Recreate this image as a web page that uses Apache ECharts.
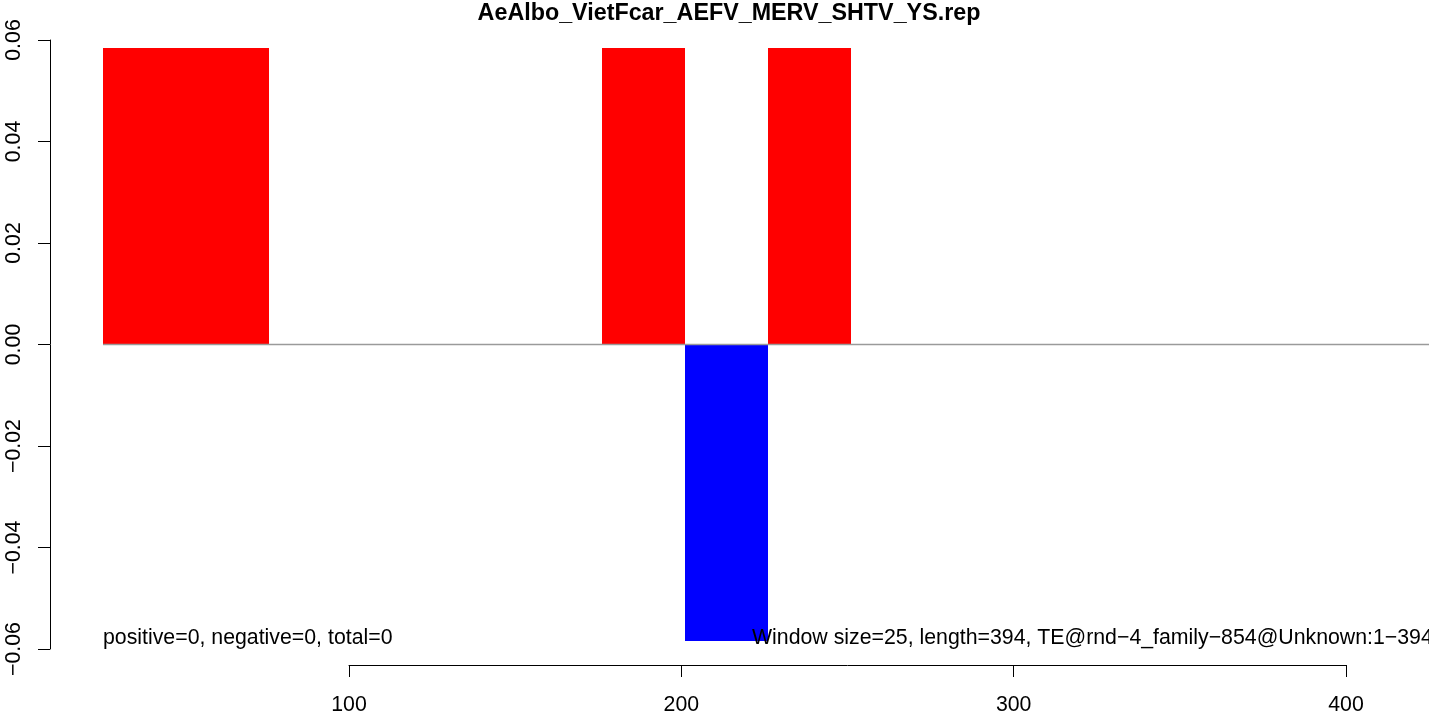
<!DOCTYPE html>
<html>
<head>
<meta charset="utf-8">
<script src="https://cdn.jsdelivr.net/npm/echarts@6/dist/echarts.min.js"></script>
<style>
html,body{margin:0;padding:0;background:#fff;}
#chart{width:1429px;height:716px;}
</style>
</head>
<body>
<div id="chart"></div>
<script>
// ---- data ----
var titleText = 'AeAlbo_VietFcar_AEFV_MERV_SHTV_YS.rep';
var windowStarts = [26, 51, 176, 201, 226];
var windowEnds   = [51, 76, 201, 226, 251];
var windowValues = [0.0585, 0.0585, 0.0585, -0.0585, 0.0585];
var zeroLineX = [26, 440];
var xTicks = [100, 200, 300, 400];
var yTicks = [-0.06, -0.04, -0.02, 0.00, 0.02, 0.04, 0.06];
var leftNote = 'positive=0, negative=0, total=0';
var rightNote = 'Window size=25, length=394, TE@rnd\u22124_family\u2212854@Unknown:1\u2212394';

var FONT = 'Liberation Sans, Arial, Helvetica, sans-serif';

var barData = windowStarts.map(function (s, i) {
  return [s, windowEnds[i], windowValues[i]];
});

var chart = echarts.init(document.getElementById('chart'), null, {renderer: 'canvas'});

chart.setOption({
  animation: false,
  backgroundColor: '#ffffff',
  grid: {left: 349, right: 83, top: 40, bottom: 64, containLabel: false},
  xAxis: {
    type: 'value',
    min: xTicks[0],
    max: xTicks[xTicks.length - 1],
    interval: 100,
    offset: 16,
    splitLine: {show: false},
    axisLine: {show: true, onZero: false, lineStyle: {color: '#000', width: 1}},
    axisTick: {show: true, length: 12, lineStyle: {color: '#000', width: 1}},
    axisLabel: {color: '#000', fontSize: 21.3, fontFamily: FONT, margin: 30}
  },
  yAxis: {
    type: 'value',
    min: yTicks[0],
    max: yTicks[yTicks.length - 1],
    interval: 0.02,
    offset: 299,
    splitLine: {show: false},
    axisLine: {show: true, lineStyle: {color: '#000', width: 1}},
    axisTick: {show: true, length: 12, lineStyle: {color: '#000', width: 1}},
    axisLabel: {
      color: '#000', fontSize: 21.3, fontFamily: FONT, rotate: 90, margin: 25,
      formatter: function (v) { return v.toFixed(2).replace('-', '\u2212'); }
    }
  },
  series: [
    {
      type: 'custom',
      clip: false,
      data: barData,
      encode: {x: [0, 1], y: 2},
      renderItem: function (params, api) {
        var p0 = api.coord([api.value(0), 0]);
        var p1 = api.coord([api.value(1), api.value(2)]);
        var v = api.value(2);
        var x0 = Math.round(p0[0]), x1 = Math.round(p1[0]);
        var y0 = Math.round(Math.min(p0[1], p1[1])), y1 = Math.round(Math.max(p0[1], p1[1]));
        return {
          type: 'rect',
          shape: {x: x0, y: y0, width: x1 - x0, height: y1 - y0},
          style: {fill: v >= 0 ? '#ff0000' : '#0000ff'}
        };
      },
      z: 2
    },
    {
      type: 'custom',
      clip: false,
      data: [[zeroLineX[0], zeroLineX[1], 0]],
      encode: {x: [0, 1], y: 2},
      renderItem: function (params, api) {
        var a = api.coord([api.value(0), api.value(2)]);
        var b = api.coord([api.value(1), api.value(2)]);
        return {
          type: 'line',
          shape: {x1: a[0], y1: a[1], x2: b[0], y2: b[1]},
          style: {stroke: '#9a9a9a', lineWidth: 1.3}
        };
      },
      z: 3
    }
  ],
  graphic: [
    {
      type: 'text', x: 729, y: 14, z: 100,
      style: {text: titleText, font: 'bold 23.3px ' + FONT, fill: '#000', textAlign: 'center', textVerticalAlign: 'middle'}
    },
    {
      type: 'text', x: 103, y: 638, z: 100,
      style: {text: leftNote, font: '21.3px ' + FONT, fill: '#000', textAlign: 'left', textVerticalAlign: 'middle'}
    },
    {
      type: 'text', x: 752, y: 638, z: 100,
      style: {text: rightNote, font: '21.3px ' + FONT, fill: '#000', textAlign: 'left', textVerticalAlign: 'middle'}
    }
  ]
});
</script>
</body>
</html>
